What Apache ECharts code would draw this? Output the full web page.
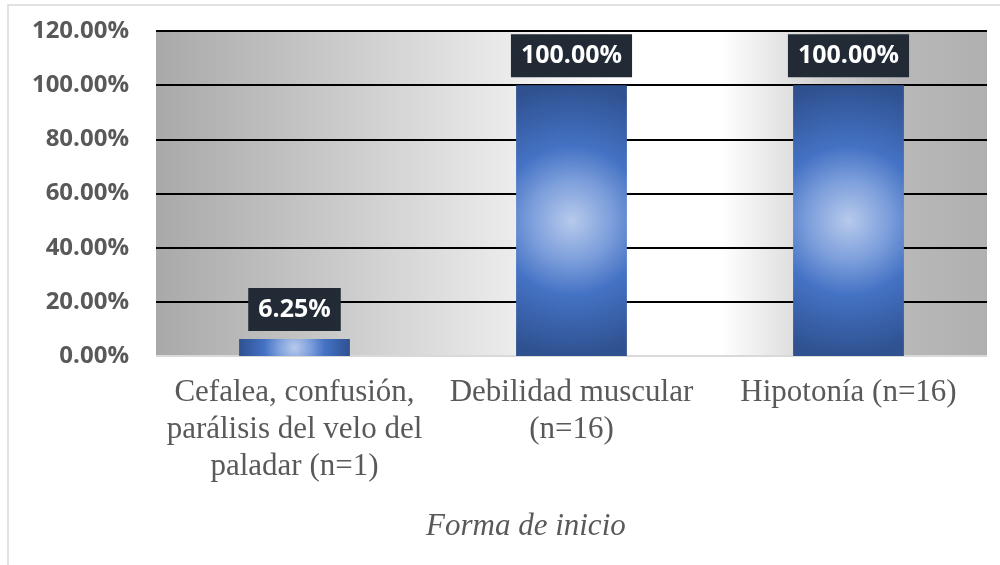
<!DOCTYPE html>
<html>
<head>
<meta charset="utf-8">
<title>Forma de inicio</title>
<script src="https://cdn.jsdelivr.net/npm/echarts@6/dist/echarts.min.js"></script>
<style>
  html, body { margin: 0; padding: 0; background: #fff; }
  #chart { width: 1000px; height: 565px; }
</style>
</head>
<body>
<div id="chart"></div>
<script>
// categorías y valores (%)
const categories = [
  'Cefalea, confusión,\nparálisis del velo del\npaladar (n=1)',
  'Debilidad muscular\n(n=16)',
  'Hipotonía (n=16)'
]
const values = [6.25, 100, 100]
const yTicks = [0, 20, 40, 60, 80, 100, 120]

const fmt = v => v.toFixed(2) + '%'

// degradado radial de las barras
const barStops = [
  { offset: 0, color: '#b7caec' },
  { offset: 0.3, color: '#7c9edb' },
  { offset: 0.55, color: '#4472c4' },
  { offset: 1, color: '#2f5190' }
]

const chart = echarts.init(document.getElementById('chart'))

const option = {
  backgroundColor: '#fff',
  animation: false,
  graphic: [
    {
      type: 'rect',
      shape: { x: 8, y: 5, width: 1000, height: 600 },
      style: { fill: 'none', stroke: '#d9d9d9', lineWidth: 1.5 },
      silent: true
    }
  ],
  title: {
    text: 'Forma de inicio',
    left: 421,
    top: 506,
    textStyle: {
      fontFamily: 'Liberation Serif',
      fontStyle: 'italic',
      fontWeight: 'normal',
      fontSize: 31,
      color: '#595959'
    }
  },
  grid: {
    left: 156,
    right: 13,
    top: 31,
    bottom: 209,
    show: true,
    borderWidth: 0,
    backgroundColor: new echarts.graphic.LinearGradient(0, 0, 1, 0, [
      { offset: 0, color: '#a9a9a9' },
      { offset: 0.25, color: '#cfcfcf' },
      { offset: 0.45, color: '#efefef' },
      { offset: 0.56, color: '#ffffff' },
      { offset: 0.68, color: '#ffffff' },
      { offset: 0.8, color: '#d2d2d2' },
      { offset: 0.9, color: '#b8b8b8' },
      { offset: 1, color: '#b0b0b0' }
    ])
  },
  xAxis: {
    type: 'category',
    data: categories,
    axisLine: { show: false },
    axisTick: { show: false },
    axisLabel: {
      interval: 0,
      margin: 18,
      fontFamily: 'Liberation Serif',
      fontSize: 31,
      lineHeight: 37,
      color: '#595959'
    }
  },
  yAxis: {
    type: 'value',
    min: yTicks[0],
    max: yTicks[yTicks.length - 1],
    interval: yTicks[1] - yTicks[0],
    axisLine: { show: false },
    axisTick: { show: false },
    splitLine: {
      lineStyle: {
        width: 2,
        color: ['#d9d9d9', '#000', '#000', '#000', '#000', '#000', '#000']
      }
    },
    axisLabel: {
      margin: 27,
      formatter: fmt,
      fontFamily: 'Open Sans',
      fontWeight: 'bold',
      fontSize: 24,
      color: '#595959'
    }
  },
  series: [
    {
      type: 'custom',
      data: values.map((v, i) => [i, v]),
      renderItem: (params, api) => {
        const top = api.coord([api.value(0), api.value(1)])
        const base = api.coord([api.value(0), 0])
        const w = api.size([1, 0])[0] * 0.4
        const h = base[1] - top[1]
        const r = Math.max(w, h) / 2
        return {
          type: 'rect',
          shape: { x: top[0] - w / 2, y: top[1], width: w, height: h },
          style: {
            fill: new echarts.graphic.RadialGradient(top[0], top[1] + h / 2, r, barStops, true)
          },
          textContent: {
            style: {
              text: fmt(api.value(1)),
              fill: '#fff',
              fontFamily: 'Open Sans',
              fontWeight: 'bold',
              fontSize: 25,
              lineHeight: 25,
              backgroundColor: '#222a35',
              padding: [9, 10]
            }
          },
          textConfig: { position: 'top', distance: 8 }
        }
      }
    }
  ]
}

chart.setOption(option)
window.addEventListener('resize', () => chart.resize())
</script>
</body>
</html>
